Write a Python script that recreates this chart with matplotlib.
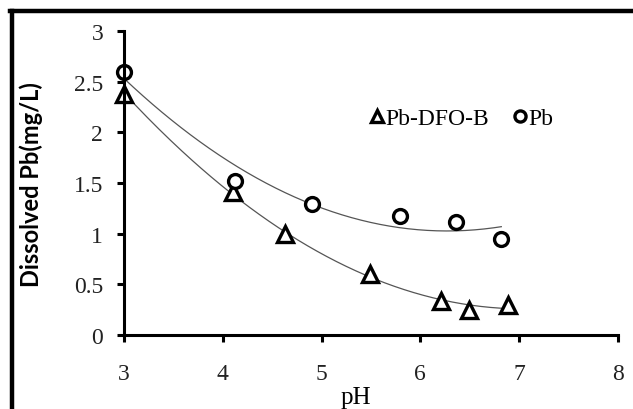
import matplotlib.pyplot as plt
import numpy as np
from matplotlib.lines import Line2D

# Pb-DFO-B (triangles)
ph_dfo = [3.0, 4.1, 4.63, 5.49, 6.21, 6.49, 6.89]
pb_dfo = [2.38, 1.41, 1.0, 0.6, 0.34, 0.25, 0.3]

# Pb alone (circles)
ph_pb = [3.0, 4.12, 4.9, 5.79, 6.36, 6.82]
pb_pb = [2.6, 1.52, 1.29, 1.18, 1.12, 0.95]

x_ticks = [3, 4, 5, 6, 7, 8]
y_ticks = [0, 0.5, 1, 1.5, 2, 2.5, 3]


def trend(x, y):
    # 2nd order polynomial trendline, like the excel one
    c = np.polyfit(x, y, 2)
    xs = np.linspace(min(x), max(x), 200)
    return xs, np.polyval(c, xs)


fig = plt.figure(figsize=(6.33, 4.10), dpi=100)
ax = fig.add_axes([0.196, 0.18, 0.78, 0.742])

xs, ys = trend(ph_dfo, pb_dfo)
ax.plot(xs, ys, color='#555555', linewidth=0.9)
xs, ys = trend(ph_pb, pb_pb)
ax.plot(xs, ys, color='#555555', linewidth=0.9)

ax.plot(ph_dfo, pb_dfo, linestyle='none', marker='^', markersize=11,
        markerfacecolor='white', markeredgecolor='black', markeredgewidth=2.4,
        label='Pb-DFO-B', clip_on=False)
ax.plot(ph_pb, pb_pb, linestyle='none', marker='o', markersize=10,
        markerfacecolor='white', markeredgecolor='black', markeredgewidth=2.4,
        label='Pb', clip_on=False)

ax.set_xlim(3, 8)
ax.set_ylim(0, 3)
ax.set_xticks(x_ticks)
ax.set_yticks(y_ticks)
ax.set_yticklabels(['0', '0.5', '1', '1.5', '2', '2.5', '3'])

for s in ['top', 'right']:
    ax.spines[s].set_visible(False)
for s in ['left', 'bottom']:
    ax.spines[s].set_linewidth(2.2)
ax.tick_params(direction='out', length=5, width=2.2, labelsize=17)
ax.tick_params(axis='x', pad=15)
ax.tick_params(axis='y', pad=10)
for lab in ax.get_xticklabels() + ax.get_yticklabels():
    lab.set_family('Liberation Serif')
    lab.set_color('#222222')

ax.set_xlabel('pH', family='Liberation Serif', fontsize=18)
ax.xaxis.set_label_coords(0.47, -0.168)
ax.set_ylabel('Dissolved Pb(mg/L)', family='Lato', fontweight='bold', fontsize=17)
ax.yaxis.set_label_coords(-0.165, 0.5)

leg = ax.legend(loc='upper left', bbox_to_anchor=(0.455, 0.818), ncol=2, frameon=False,
                prop={'family': 'Liberation Serif', 'size': 17}, handlelength=0.6,
                handletextpad=0.05, columnspacing=1.0, markerscale=0.8)

# border of the figure (cropped at right and bottom)
fig.add_artist(Line2D([0.019, 0.019], [0, 0.971], color='black', linewidth=3.2))
fig.add_artist(Line2D([0.016, 1.0], [0.971, 0.971], color='black', linewidth=3.2))

plt.savefig('out.png', dpi=100)
